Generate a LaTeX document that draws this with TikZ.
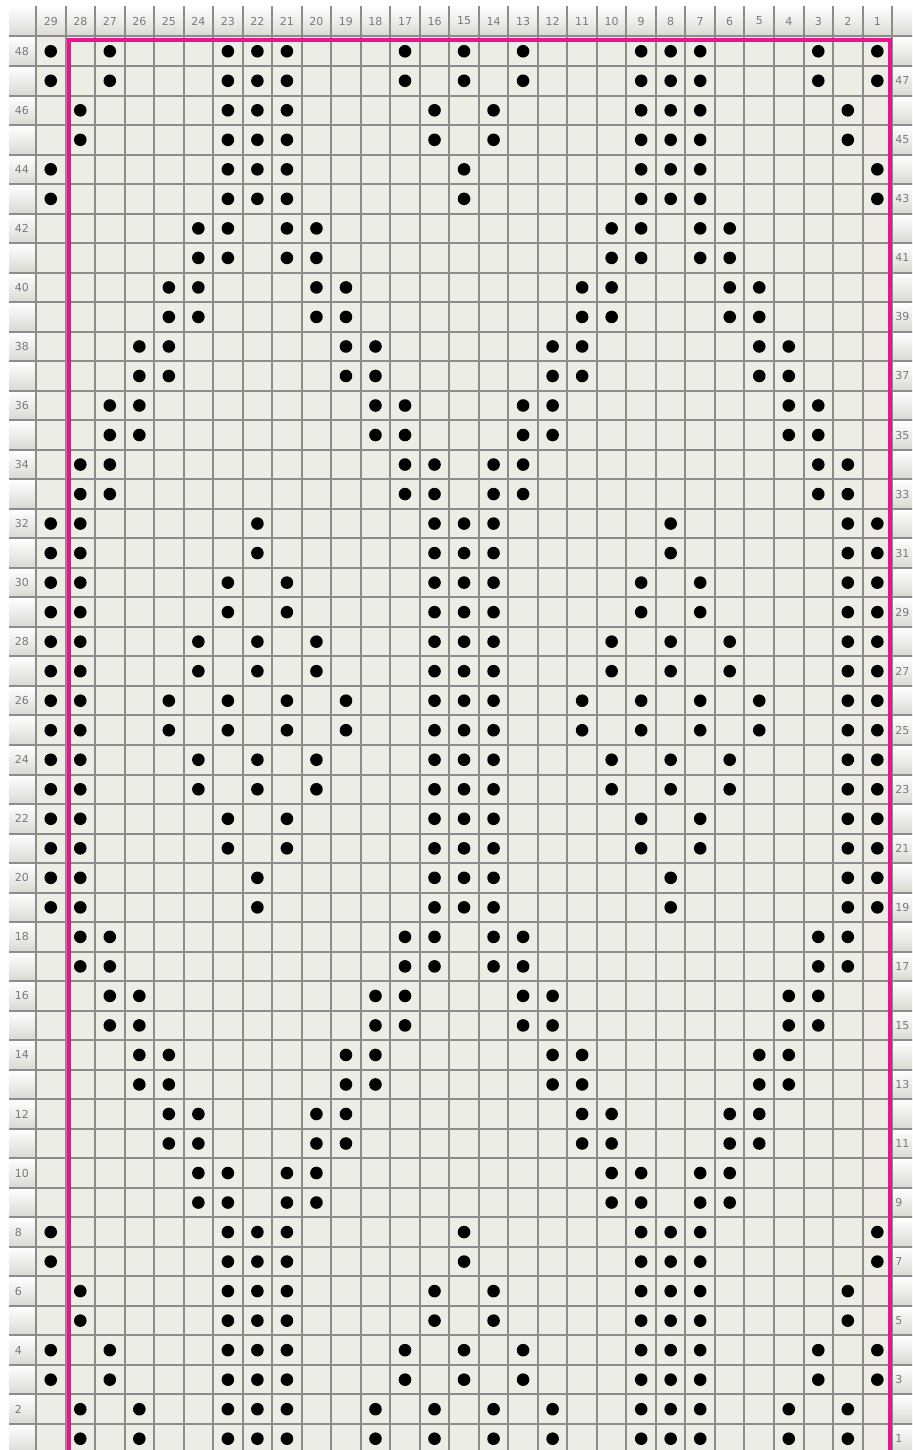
\documentclass[tikz,border=0pt]{standalone}
\usepackage{fontspec}
\setsansfont{DejaVu Sans}
\usepackage{tikz}
\definecolor{paper}{HTML}{EDECE5}
\definecolor{rule}{HTML}{8C8C8C}
\definecolor{frame}{HTML}{E8158E}
\definecolor{tab}{HTML}{D9D9D3}
\definecolor{num}{HTML}{7A7A7A}

\begin{document}
\begin{tikzpicture}[x=0.5pt, y=-0.5pt,
  hdr/.style={font=\sffamily\fontsize{5.5}{6}\selectfont, text=num, inner sep=0pt},
  lbl/.style={hdr, anchor=west},
  gridline/.style={draw=rule, line width=1pt},
  knitframe/.style={draw=frame, line width=2pt},
  dot/.style={fill=black}]
\useasboundingbox (0,0) rectangle (912,1450);
\clip (0,0) rectangle (912,1450);
% chart cells and header strip
\fill[paper] (36,36.5) rectangle (892,1453);
\shade[top color=white, bottom color=tab] (9,6) rectangle (918,36.5);
\foreach \r in {1,...,48}{
  \shade[top color=white, bottom color=tab] (9,{36.5+(48-\r)*29.52}) rectangle (35,{36.5+(49-\r)*29.52});
  \shade[top color=white, bottom color=tab] (892,{36.5+(48-\r)*29.52}) rectangle (918,{36.5+(49-\r)*29.52});
}
\foreach \k in {0,...,29} \draw[gridline] ({36+\k*29.52},6) -- ({36+\k*29.52},1453);
\foreach \k in {0,...,48} \draw[gridline] (9,{36.5+\k*29.52}) -- (918,{36.5+\k*29.52});
% numbers
\foreach \c in {1,...,29} \node[hdr] (col\c) at ({36+(29.5-\c)*29.52},21) {\c};
\foreach \r in {2,4,...,48} \node[lbl] (even\r) at (14.5,{36.5+(48.5-\r)*29.52}) {\r};
\foreach \r in {1,3,...,47} \node[lbl] (odd\r) at (895,{36.5+(48.5-\r)*29.52}) {\r};
% stitches, two rows each
\foreach \r/\cols in {48/{29,27,23,22,21,17,15,13,9,8,7,3,1},
  46/{28,23,22,21,16,14,9,8,7,2}, 44/{29,23,22,21,15,9,8,7,1},
  42/{24,23,21,20,10,9,7,6}, 40/{25,24,20,19,11,10,6,5},
  38/{26,25,19,18,12,11,5,4}, 36/{27,26,18,17,13,12,4,3},
  34/{28,27,17,16,14,13,3,2}, 32/{29,28,22,16,15,14,8,2,1},
  30/{29,28,23,21,16,15,14,9,7,2,1}, 28/{29,28,24,22,20,16,15,14,10,8,6,2,1},
  26/{29,28,25,23,21,19,16,15,14,11,9,7,5,2,1}, 24/{29,28,24,22,20,16,15,14,10,8,6,2,1},
  22/{29,28,23,21,16,15,14,9,7,2,1}, 20/{29,28,22,16,15,14,8,2,1},
  18/{28,27,17,16,14,13,3,2}, 16/{27,26,18,17,13,12,4,3},
  14/{26,25,19,18,12,11,5,4}, 12/{25,24,20,19,11,10,6,5},
  10/{24,23,21,20,10,9,7,6}, 8/{29,23,22,21,15,9,8,7,1},
  6/{28,23,22,21,16,14,9,8,7,2}, 4/{29,27,23,22,21,17,15,13,9,8,7,3,1},
  2/{28,26,23,22,21,18,16,14,12,9,8,7,4,2}}{
  \foreach \c in \cols {
    \fill[dot] ({36+(29.5-\c)*29.52},{36.5+(48.5-\r)*29.52}) circle (6.3);
    \fill[dot] ({36+(29.5-\c)*29.52},{36.5+(49.5-\r)*29.52}) circle (6.3);
  }
}
% repeat frame
\draw[knitframe] (69,40) rectangle (889.5,1451.5);
\end{tikzpicture}
\end{document}
